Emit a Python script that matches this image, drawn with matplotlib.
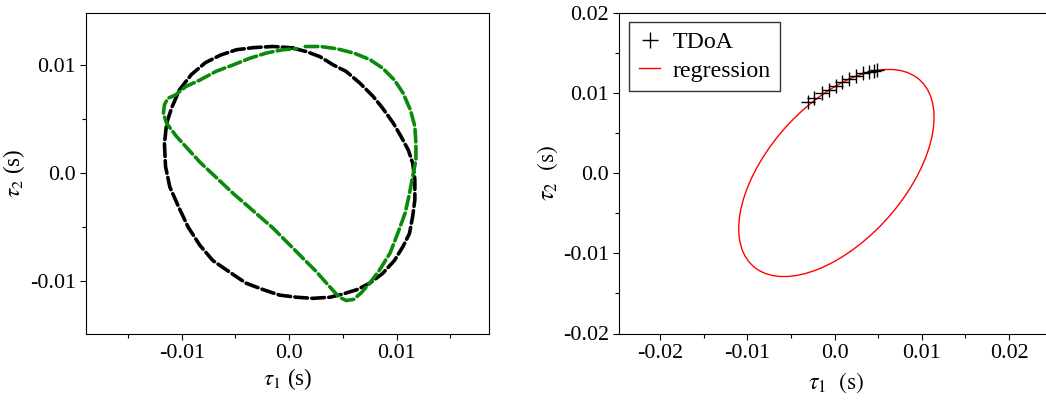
import numpy as np
import matplotlib
matplotlib.use("Agg")
import matplotlib.pyplot as plt
from matplotlib.patches import Ellipse
from matplotlib.lines import Line2D

plt.rcParams['font.family'] = ['Liberation Serif', 'DejaVu Serif']
plt.rcParams['mathtext.fontset'] = 'stix'
plt.rcParams['axes.unicode_minus'] = False

# %% data

# left panel: black ring of TDoA samples
black_x = [0.0004, 0.0016, 0.00285, 0.0041, 0.0053, 0.0066, 0.0078, 0.0087, 0.0097, 0.0104,
           0.0111, 0.0115, 0.0117, 0.0117, 0.0115, 0.0112, 0.0106, 0.0098, 0.0087, 0.0075,
           0.0063, 0.0050, 0.0038, 0.0022, 0.0007, -0.0009, -0.0024, -0.0040, -0.0055, -0.0071,
           -0.0083, -0.0094, -0.0103, -0.0111, -0.0115, -0.0116, -0.0114, -0.0109, -0.0102, -0.0091,
           -0.0078, -0.0064, -0.0049, -0.0033, -0.0015, 0.0, 0.0004]
black_y = [0.01154, 0.01123, 0.01077, 0.0100, 0.0094, 0.0083, 0.0071, 0.0060, 0.0046, 0.0034,
           0.0021, 0.0009, -0.0006, -0.0025, -0.0040, -0.0056, -0.0068, -0.0081, -0.0093, -0.0102,
           -0.0108, -0.0112, -0.0115, -0.0116, -0.0115, -0.0113, -0.0108, -0.0102, -0.0092, -0.0081,
           -0.0067, -0.0050, -0.0031, -0.0013, 0.0006, 0.0027, 0.0046, 0.0061, 0.0077, 0.0091,
           0.0102, 0.0109, 0.0114, 0.0116, 0.0117, 0.0116, 0.01154]

# left panel: green loop
green_x = [0.0015, 0.0029, 0.0044, 0.0060, 0.0075, 0.0087, 0.0098, 0.0106, 0.0113, 0.0117,
           0.0118, 0.0118, 0.0115, 0.0112, 0.0108, 0.0101, 0.0094, 0.0084, 0.0075, 0.0067,
           0.0060, 0.0053, 0.0047, 0.0042, 0.0025, -0.0015, -0.0052, -0.0083, -0.0105, -0.0114,
           -0.0117, -0.0116, -0.0113, -0.0106, -0.0096, -0.0083, -0.0068, -0.0052, -0.0037, -0.0021,
           -0.0006, 0.0007]
green_y = [0.0117, 0.0117, 0.0115, 0.0111, 0.0105, 0.0097, 0.0086, 0.0074, 0.0058, 0.0043,
           0.0027, 0.0012, -0.0003, -0.0019, -0.0037, -0.0056, -0.0074, -0.0090, -0.0102, -0.0111,
           -0.0117, -0.0118, -0.0115, -0.0110, -0.0091, -0.0051, -0.0019, 0.0010, 0.0034, 0.0046,
           0.0055, 0.0063, 0.0069, 0.0072, 0.0080, 0.0086, 0.0094, 0.0100, 0.0106, 0.0111,
           0.0114, 0.0115]

# right panel: TDoA points and fitted ellipse
tdoa_x = [-0.0030, -0.0024, -0.0014, -0.0007, 0.0001, 0.0009, 0.0017, 0.0024, 0.0033, 0.0039, 0.0045, 0.0049]
tdoa_y = [0.0089, 0.0093, 0.0100, 0.0104, 0.0109, 0.0114, 0.0117, 0.0121, 0.0124, 0.0126, 0.0127, 0.0128]
ell_center = (0.0002, 0.0)
ell_width = 0.0301
ell_height = 0.0162
ell_angle = 52.4

left_xticks = [-0.01, 0.0, 0.01]
left_xlabels = ['-0.01', '0.0', '0.01']
left_yticks = [-0.01, 0.0, 0.01]
left_ylabels = ['-0.01', '0.0', '0.01']
right_xticks = [-0.02, -0.01, 0.0, 0.01, 0.02]
right_xlabels = ['-0.02', '-0.01', '0.0', '0.01', '0.02']
right_yticks = [-0.02, -0.01, 0.0, 0.01, 0.02]
right_ylabels = ['-0.02', '-0.01', '0.0', '0.01', '0.02']

# %% figure

fig = plt.figure(figsize=(10.46, 4.0), dpi=100)
W, H = 1046, 400

def style_axes(ax):
    ax.tick_params(which='major', direction='out', length=4.3, width=0.8, labelsize=15.8, pad=3)
    ax.tick_params(which='minor', direction='out', length=3, width=0.8)
    ax.tick_params(top=False, right=False, which='both')

# left panel
ax1 = fig.add_axes([86/W, (400-334)/H, (489-86)/W, (334-13)/H])
ax1.plot(black_x, black_y, color='black', lw=2.6, ls=(0, (3.5, 1.2)), dash_capstyle='round')
ax1.plot(green_x, green_y, color='#0a8a0a', lw=2.6, ls=(0, (3.5, 1.2)), dash_capstyle='round')
ax1.set_xlim(-0.0189, 0.0186)
ax1.set_ylim(-0.0149, 0.0148)
ax1.set_xticks(left_xticks, left_xlabels)
ax1.set_yticks(left_yticks, left_ylabels)
ax1.set_xticks([-0.015, -0.005, 0.005, 0.015], minor=True)
ax1.set_yticks([-0.005, 0.005], minor=True)
style_axes(ax1)
ax1.set_xlabel(r'$\tau_1$ (s)', fontsize=16.5, labelpad=2)
ax1.set_ylabel(r'$\tau_2$ (s)', fontsize=16.5, labelpad=2)

# right panel
ax2 = fig.add_axes([619.3/W, (400-333.5)/H, (1052.6-619.3)/W, (333.5-12.5)/H])
ell = Ellipse(ell_center, ell_width, ell_height, angle=ell_angle, fill=False,
              edgecolor='red', lw=1.0)
ax2.add_patch(ell)
ax2.plot(tdoa_x, tdoa_y, ls='none', marker='+', ms=10, mew=1.0, color='black', label='TDoA')
ax2.set_xlim(-0.0247, 0.025)
ax2.set_ylim(-0.02, 0.02)
ax2.set_xticks(right_xticks, right_xlabels)
ax2.set_yticks(right_yticks, right_ylabels)
ax2.set_xticks([-0.015, -0.005, 0.005, 0.015], minor=True)
ax2.set_yticks([-0.015, -0.005, 0.005, 0.015], minor=True)
style_axes(ax2)
ax2.spines['right'].set_visible(False)
ax2.set_xlabel(r'$\tau_1\ \ (\mathrm{s})$', fontsize=17, labelpad=6)
ax2.set_ylabel(r'$\tau_2\ \ (\mathrm{s})$', fontsize=17, labelpad=2)

handles = [Line2D([], [], ls='none', marker='+', ms=12, mew=1.0, color='black'),
           Line2D([], [], color='red', lw=1.0)]
leg = ax2.legend(handles, ['TDoA', 'regression'], loc='upper left', fontsize=17.2,
                 frameon=True, fancybox=False, edgecolor='black', handlelength=0.9,
                 handletextpad=0.5, borderpad=0.4, labelspacing=0.28, borderaxespad=0,
                 bbox_to_anchor=(0.023, 0.97))
leg.get_frame().set_linewidth(1.0)

fig.savefig('out.png', dpi=100)
